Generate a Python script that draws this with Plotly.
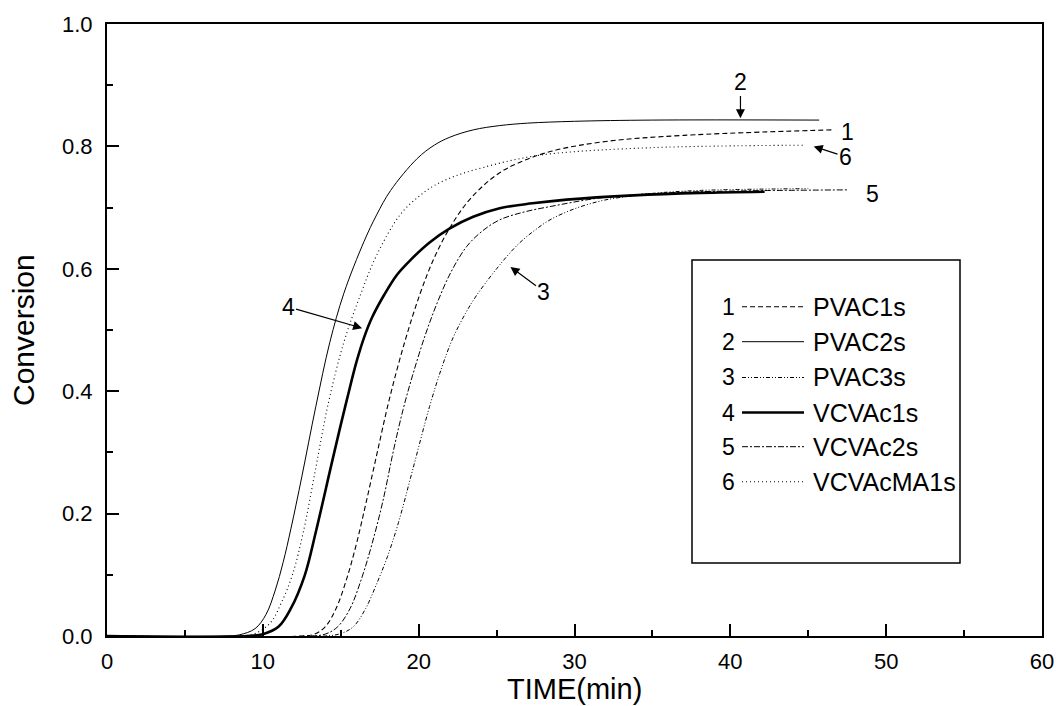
import plotly.graph_objects as go

# ---- data ----
names = ["PVAC1s", "PVAC2s", "PVAC3s", "VCVAc1s", "VCVAc2s", "VCVAcMA1s"]
labels = ["1", "2", "3", "4", "5", "6"]

t1 = [0, 12.5, 13.3, 14.0, 14.7, 15.4, 16.0, 16.6, 17.3, 18.1, 19.1, 20.1, 21.0, 22.0, 23.1, 24.2, 25.2, 26.3, 28.5, 32, 37, 46.5]
c1 = [0, 0, 0.003, 0.015, 0.045, 0.095, 0.15, 0.215, 0.295, 0.385, 0.48, 0.56, 0.618, 0.667, 0.708, 0.737, 0.757, 0.772, 0.792, 0.808, 0.818, 0.827]

t2 = [0, 7.5, 8.5, 9.5, 10.2, 10.8, 11.3, 11.8, 12.5, 13.4, 14.3, 15.2, 16.5, 17.3, 18.2, 19.9, 21.0, 22.0, 23.5, 25.2, 27.0, 30.0, 35.0, 45.7]
c2 = [0, 0, 0.002, 0.012, 0.035, 0.075, 0.12, 0.175, 0.26, 0.375, 0.48, 0.56, 0.645, 0.688, 0.728, 0.78, 0.802, 0.815, 0.827, 0.834, 0.838, 0.841, 0.843, 0.843]

t3 = [0, 14, 15, 15.8, 16.6, 17.3, 18.0, 18.7, 19.6, 20.7, 21.5, 22.2, 23.0, 23.7, 25.0, 26.3, 27.4, 28.5, 30.0, 31.7, 33.3, 34.9, 38, 45]
c3 = [0, 0, 0.004, 0.015, 0.045, 0.085, 0.13, 0.185, 0.27, 0.375, 0.44, 0.487, 0.527, 0.556, 0.60, 0.638, 0.662, 0.681, 0.698, 0.711, 0.718, 0.723, 0.728, 0.731]

t4 = [0, 9, 10, 11, 11.8, 12.7, 13.4, 14.4, 15.0, 15.5, 16.0, 16.5, 17.0, 17.8, 18.6, 19.5, 20.7, 22.0, 23.5, 25.2, 27.3, 29.5, 33.8, 38.1, 42.2]
c4 = [0, 0, 0.003, 0.015, 0.045, 0.10, 0.17, 0.28, 0.345, 0.397, 0.447, 0.488, 0.52, 0.558, 0.59, 0.615, 0.643, 0.666, 0.685, 0.699, 0.707, 0.713, 0.720, 0.724, 0.726]

t5 = [0, 13, 14, 14.8, 15.6, 16.35, 17.0, 17.7, 18.4, 19.0, 19.6, 20.4, 21.2, 22.1, 23.1, 24.1, 25.2, 26.8, 28.5, 31.7, 35.9, 40, 47.6]
c5 = [0, 0, 0.003, 0.015, 0.045, 0.095, 0.15, 0.22, 0.305, 0.37, 0.425, 0.49, 0.545, 0.596, 0.637, 0.662, 0.680, 0.693, 0.702, 0.716, 0.724, 0.727, 0.729]

t6 = [0, 8.5, 9.5, 10.5, 11.2, 11.9, 12.6, 13.4, 14.2, 15.2, 16.3, 17.3, 18.8, 20.0, 21.0, 22.5, 24.2, 26.3, 28.5, 35, 44.8]
c6 = [0, 0, 0.004, 0.022, 0.055, 0.10, 0.17, 0.275, 0.38, 0.48, 0.56, 0.622, 0.688, 0.718, 0.736, 0.753, 0.766, 0.779, 0.788, 0.798, 0.802]

x_ticks = [0, 10, 20, 30, 40, 50, 60]
y_ticks = [0.0, 0.2, 0.4, 0.6, 0.8, 1.0]

# ---- styles ----
FONT = "Liberation Sans, Arial, sans-serif"
styles = [
    dict(width=1.1, dash="5px,3px"),
    dict(width=1.0, dash="solid"),
    dict(width=1.0, dash="4px,2px,1px,2px,1px,2px"),
    dict(width=2.6, dash="solid"),
    dict(width=1.0, dash="6px,2px,2px,2px"),
    dict(width=1.1, dash="1px,3px"),
]
series = [(t1, c1), (t2, c2), (t3, c3), (t4, c4), (t5, c5), (t6, c6)]

fig = go.Figure()
for (tt, cc), st, nm in zip(series, styles, names):
    fig.add_trace(go.Scatter(
        x=tt, y=cc, mode="lines", name=nm, showlegend=False,
        line=dict(color="black", width=st["width"], dash=st["dash"], shape="spline", smoothing=1.0),
    ))

# ---- curve labels / arrows ----
ann = []
def lab(text, x, y, ax=None, ay=None):
    d = dict(text=text, x=x, y=y, xref="x", yref="y", font=dict(family=FONT, size=23, color="black"))
    if ax is None:
        d.update(showarrow=False)
    else:
        d.update(showarrow=True, ax=ax, ay=ay, axref="x", ayref="y", arrowhead=2, arrowsize=1.5,
                 arrowwidth=1.2, arrowcolor="black", standoff=0)
    ann.append(d)

lab("2", 40.65, 0.846, 40.65, 0.906)
lab("1", 47.5, 0.824)
lab("6", 45.35, 0.800, 47.39, 0.783)
lab("5", 49.1, 0.723)
lab("3", 25.89, 0.603, 28.04, 0.5626)
lab("4", 16.37, 0.503, 11.62, 0.538)

# ---- axis titles ----
ann.append(dict(text="TIME(min)", x=0.5, y=-0.058, xref="paper", yref="paper", xanchor="center", yanchor="top",
                showarrow=False, font=dict(family=FONT, size=29, color="black")))
ann.append(dict(text="Conversion", x=-0.0898, y=0.5, xref="paper", yref="paper", xanchor="center", yanchor="middle",
                textangle=-90, showarrow=False, font=dict(family=FONT, size=30, color="black")))

# ---- legend (drawn as a box in paper coordinates) ----
L, R, W, H, T = 107, 1042, 935, 612, 24
def px(xp): return (xp - L) / W
def py(yp): return (T + H - yp) / H

shapes = [dict(type="rect", xref="paper", yref="paper", x0=px(692), x1=px(960), y0=py(563), y1=py(260),
               line=dict(color="black", width=1.5), fillcolor="white", layer="below")]
rows = [306.7, 341.7, 377.5, 412.5, 446.7, 481.7]
for i, (nm, lb, st) in enumerate(zip(names, labels, styles)):
    yy = py(rows[i])
    shapes.append(dict(type="line", xref="paper", yref="paper", x0=px(742), x1=px(804), y0=yy, y1=yy,
                       line=dict(color="black", width=st["width"] if st["width"] < 2 else 2.4, dash=st["dash"])))
    ann.append(dict(text=lb, x=px(737), y=yy, xref="paper", yref="paper", xanchor="right", yanchor="middle",
                    showarrow=False, font=dict(family=FONT, size=23, color="black")))
    ann.append(dict(text=nm, x=px(811), y=yy, xref="paper", yref="paper", xanchor="left", yanchor="middle",
                    showarrow=False, font=dict(family=FONT, size=25, color="black")))

fig.update_layout(
    width=1058, height=706,
    margin=dict(l=L, r=1058 - R, t=T, b=706 - T - H, autoexpand=False),
    paper_bgcolor="white", plot_bgcolor="white",
    font=dict(family=FONT, size=22, color="black"),
    annotations=ann, shapes=shapes,
    xaxis=dict(range=[0, 60], tickvals=x_ticks, ticktext=[str(v) for v in x_ticks],
               ticks="inside", ticklen=12, tickwidth=1.5, tickcolor="black",
               minor=dict(dtick=5, ticks="inside", ticklen=6, tickwidth=1.5, tickcolor="black"),
               showline=True, linewidth=2, linecolor="black", mirror=True, automargin=False,
               showgrid=False, zeroline=False, ticklabelstandoff=5,
               tickfont=dict(family=FONT, size=22)),
    yaxis=dict(range=[0, 1.0], tickvals=y_ticks, ticktext=["%.1f" % v for v in y_ticks],
               ticks="inside", ticklen=12, tickwidth=1.5, tickcolor="black",
               minor=dict(dtick=0.1, ticks="inside", ticklen=6, tickwidth=1.5, tickcolor="black"),
               showline=True, linewidth=2, linecolor="black", mirror=True, automargin=False,
               showgrid=False, zeroline=False, ticklabelstandoff=8,
               tickfont=dict(family=FONT, size=22)),
)

fig.write_html("out.html", config={"displayModeBar": False, "responsive": False},
               post_script="document.body.style.margin='0';document.body.style.overflow='hidden';")
